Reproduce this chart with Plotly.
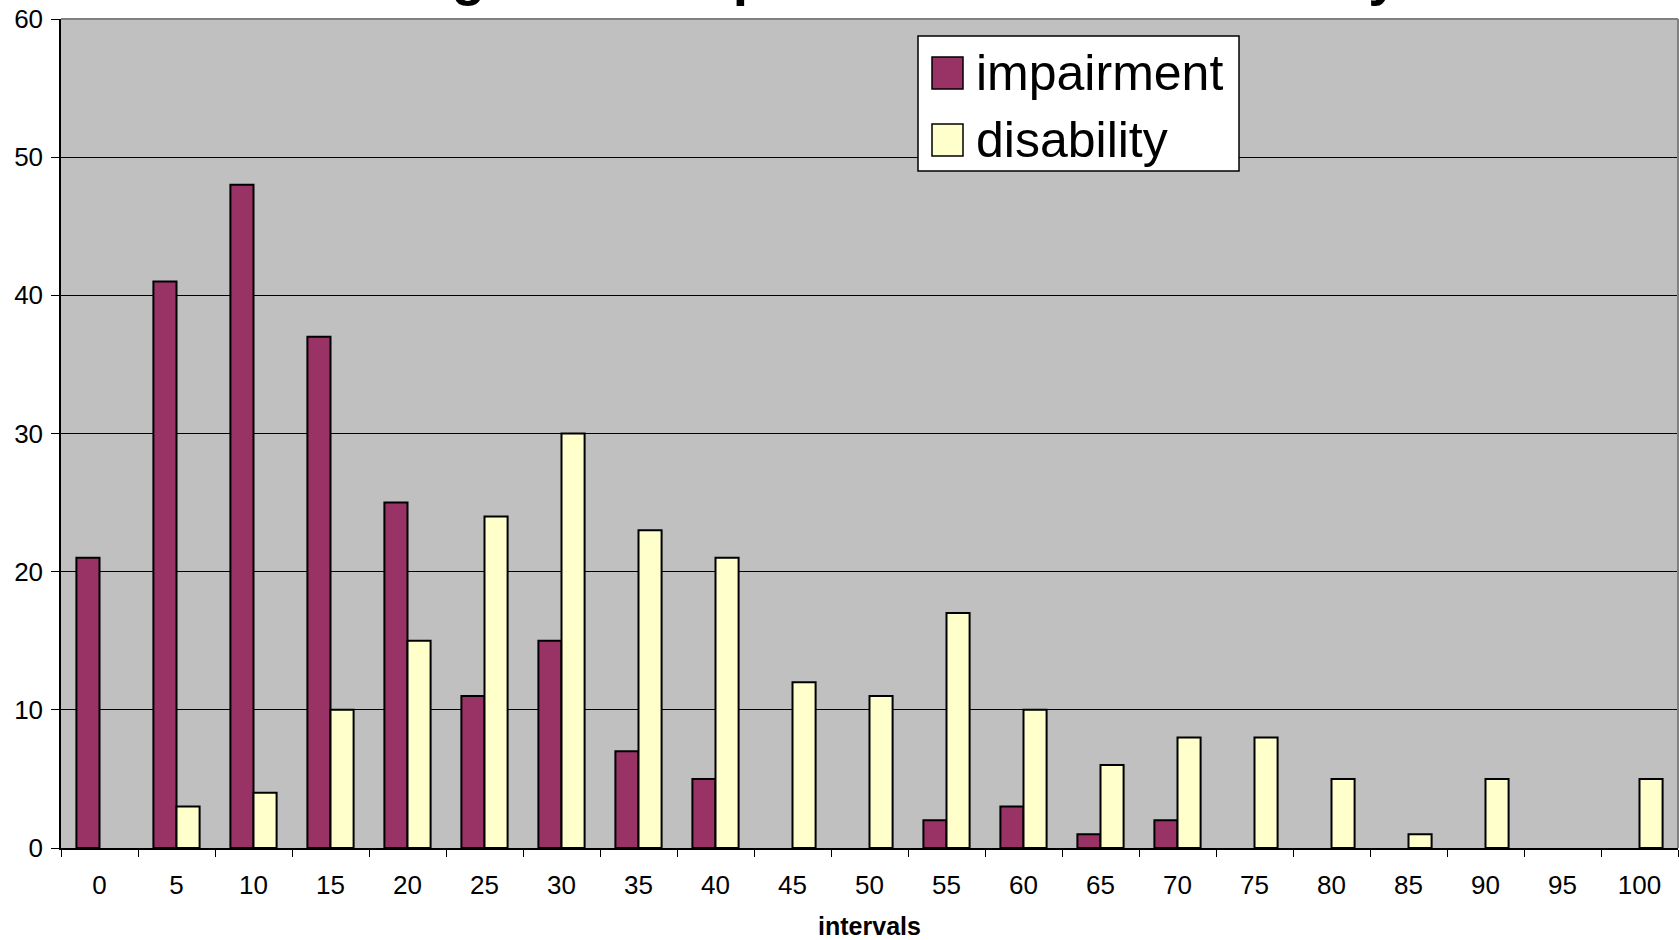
import plotly.graph_objects as go

intervals = [0, 5, 10, 15, 20, 25, 30, 35, 40, 45, 50, 55, 60, 65, 70, 75, 80, 85, 90, 95, 100]
impairment = [21, 41, 48, 37, 25, 11, 15, 7, 5, 0, 0, 2, 3, 1, 2, 0, 0, 0, 0, 0, 0]
disability = [0, 3, 4, 10, 15, 24, 30, 23, 21, 12, 11, 17, 10, 6, 8, 8, 5, 1, 5, 0, 5]
series_names = ["impairment", "disability"]
series_colors = ["#993366", "#FFFFCC"]
title_text = "Histogram of impairment and of disability"
x_title = "intervals"
y_ticks = [0, 10, 20, 30, 40, 50, 60]

W, H = 1679, 940
L, R, T, B = 61, 1678, 19, 848

cats = [str(v) for v in intervals]
fig = go.Figure()
for name, vals, col in zip(series_names, [impairment, disability], series_colors):
    fig.add_trace(go.Bar(
        x=cats, y=[v if v else None for v in vals], name=name,
        marker=dict(color=col, line=dict(color="black", width=2)),
        showlegend=False,
    ))

def px(x):
    return (x - L) / (R - L)

def py(y):
    return (B - y) / (B - T)

shapes = [
    dict(type="line", xref="paper", yref="paper", x0=0, x1=1, y0=1, y1=1,
         line=dict(color="#808080", width=2)),
    dict(type="line", xref="paper", yref="paper", x0=1, x1=1, y0=0, y1=1,
         line=dict(color="#808080", width=2)),
    # legend box
    dict(type="rect", xref="paper", yref="paper", x0=px(918), x1=px(1239), y0=py(171), y1=py(36),
         fillcolor="white", line=dict(color="black", width=1.5), layer="above"),
]
annotations = [
    dict(text="<b>" + title_text + "</b>", xref="paper", yref="paper", x=px(856), y=py(8),
         xanchor="center", yanchor="bottom", showarrow=False,
         font=dict(family="Liberation Sans, Arial", size=55, color="black")),
]
for i, (name, col) in enumerate(zip(series_names, series_colors)):
    cy = 73 + i * 67
    shapes.append(dict(type="rect", xref="paper", yref="paper", x0=px(932), x1=px(963),
                       y0=py(cy + 16), y1=py(cy - 16), fillcolor=col,
                       line=dict(color="black", width=1.5), layer="above"))
    annotations.append(dict(text=name, xref="paper", yref="paper", x=px(974), y=py(cy),
                            xanchor="left", yanchor="middle", showarrow=False,
                            font=dict(family="Liberation Sans, Arial", size=50, color="black")))

fig.update_layout(
    width=W, height=H,
    margin=dict(l=L, r=W - R, t=T, b=H - B, pad=0),
    paper_bgcolor="white", plot_bgcolor="#C0C0C0",
    barmode="group", bargap=0.4, bargroupgap=0,
    font=dict(family="Liberation Sans, Arial", size=26, color="black"),
    shapes=shapes, annotations=annotations,
    showlegend=False,
)
fig.update_xaxes(
    type="category", tickson="boundaries", ticks="outside", ticklen=7, tickcolor="black",
    showline=True, linecolor="black", linewidth=1.5, showgrid=False,
    ticklabelstandoff=13,
    title=dict(text="<b>" + x_title + "</b>", font=dict(size=25), standoff=20),
)
fig.update_yaxes(
    range=[0, 60], tickvals=y_ticks, ticks="outside", ticklen=8, tickcolor="black",
    showline=True, linecolor="black", linewidth=1.5,
    showgrid=True, gridcolor="black", gridwidth=1, zeroline=False,
    ticklabelstandoff=3,
)
fig.write_html("out.html", config={"displayModeBar": False},
               post_script="document.body.style.margin='0';")
